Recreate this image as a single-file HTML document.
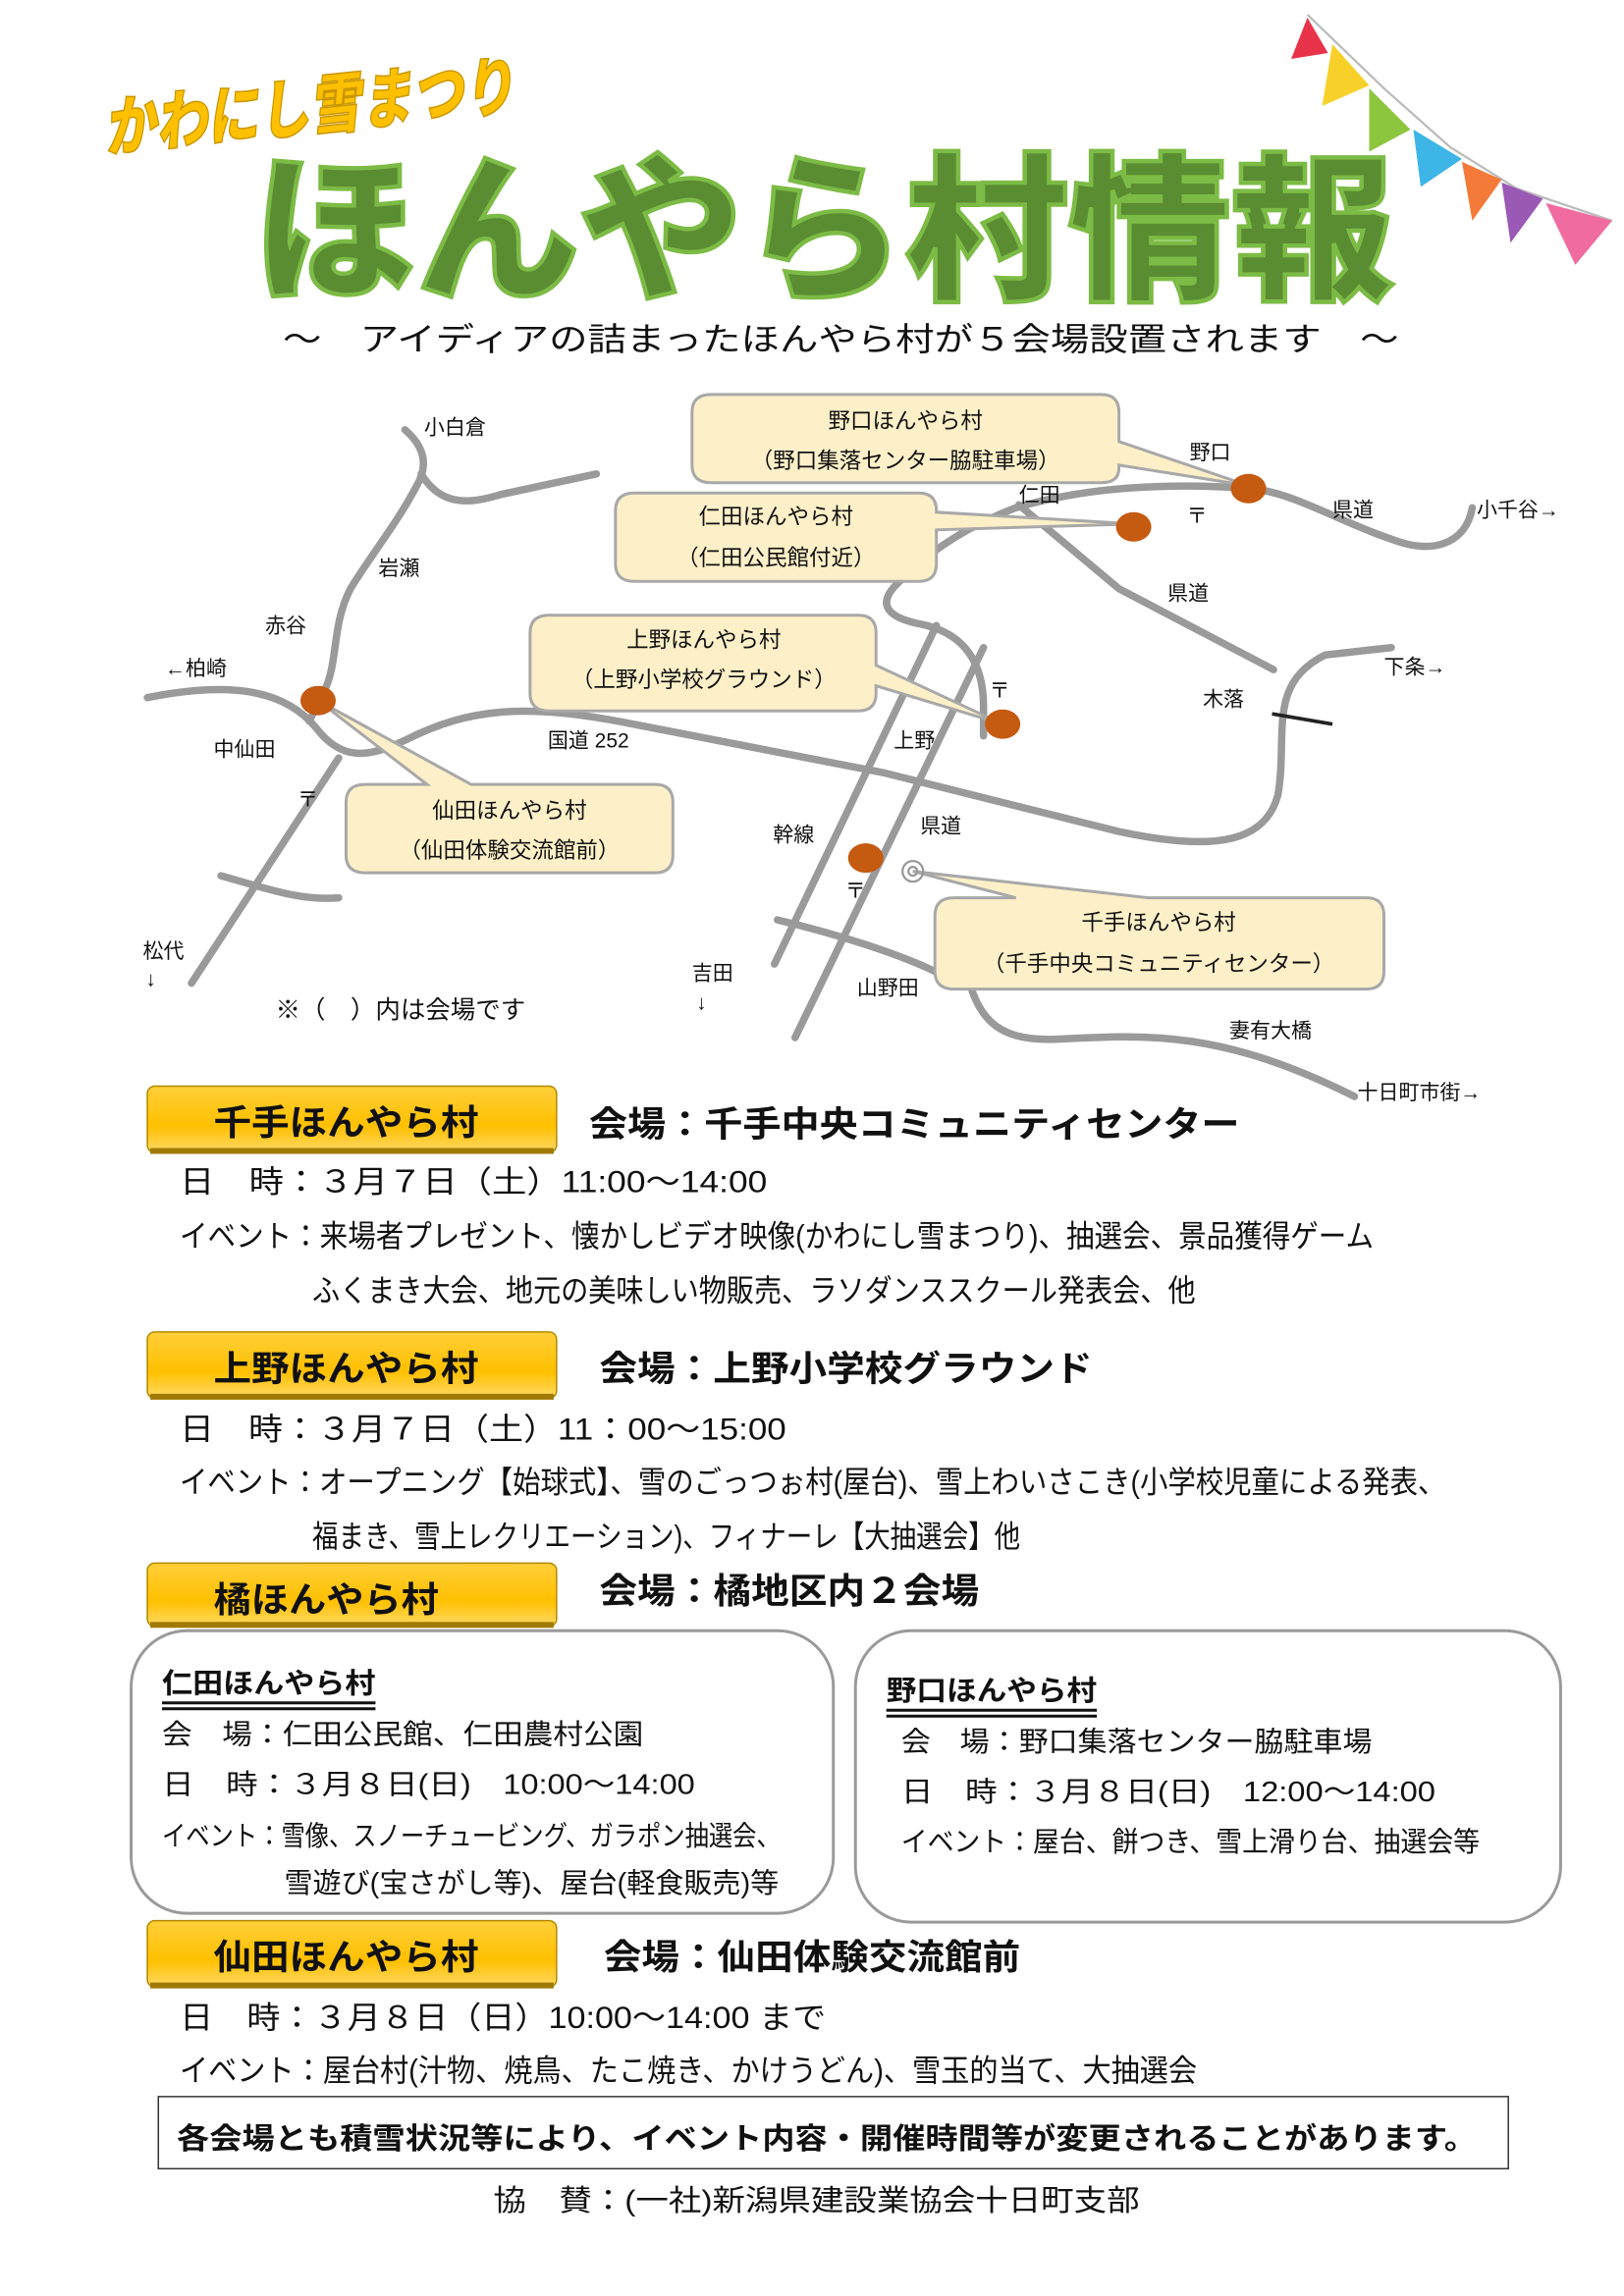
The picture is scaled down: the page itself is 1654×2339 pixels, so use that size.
<!DOCTYPE html>
<html><head><meta charset="utf-8"><style>
html,body{margin:0;padding:0;background:#fff;}
svg{display:block;}
text{font-family:"Liberation Sans","Noto Sans CJK JP",sans-serif;fill:#111;}
</style></head><body>
<svg width="1654" height="2339" viewBox="0 0 1103 1560" xmlns="http://www.w3.org/2000/svg">
<defs>
<linearGradient id="yb" x1="0" y1="0" x2="0" y2="1">
<stop offset="0" stop-color="#ffcf3a"/><stop offset="0.6" stop-color="#ffc000"/><stop offset="1" stop-color="#ffd966"/>
</linearGradient>
</defs>
<!-- bunting -->
<polyline points="888,10 940,60 985,100 1030,128 1095,150" fill="none" stroke="#bbb" stroke-width="1.5"/>
<polygon points="888,12 877,40 902,36" fill="#e8334a"/>
<polygon points="905,30 898,72 930,58" fill="#f7d12a"/>
<polygon points="930,60 930,103 958,88" fill="#8cc63f"/>
<polygon points="960,88 965,127 993,108" fill="#3db5e6"/>
<polygon points="993,110 1000,150 1020,122" fill="#f47a3a"/>
<polygon points="1020,124 1026,165 1048,135" fill="#9b59b6"/>
<polygon points="1050,138 1070,180 1095,150" fill="#f06ba0"/>
<!-- title -->
<text x="72" y="103" font-size="44" font-weight="900" font-style="italic" style="fill:#ffc000;stroke:#c89600;stroke-width:1" transform="rotate(-6 72 103)" textLength="280" lengthAdjust="spacingAndGlyphs">かわにし雪まつり</text>
<text x="172" y="195" font-size="108" font-weight="900" style="fill:#5a8c32;stroke:#7cbb45;stroke-width:3" textLength="775" lengthAdjust="spacingAndGlyphs">ほんやら村情報</text>
<text x="192" y="238" font-size="22" textLength="758" lengthAdjust="spacingAndGlyphs">～　アイディアの詰まったほんやら村が５会場設置されます　～</text>
<!-- roads -->
<g fill="none" stroke="#9a9a9a" stroke-width="5" stroke-linecap="round">
<path d="M275,292 C290,305 290,318 283,330 C270,355 250,380 238,400 C225,425 230,450 220,470 L210,490"/>
<path d="M286,322 C300,345 320,342 340,336 L405,322"/>
<path d="M100,474 C160,462 195,470 215,495 C232,517 250,515 275,503 C320,480 360,478 430,492 L600,525 L760,565 C830,580 860,570 868,540 C875,500 860,465 900,445 L945,440"/>
<path d="M230,515 L130,668"/>
<path d="M150,595 C185,605 205,612 230,610"/>
<path d="M692,343 L760,400 L865,455"/>
<path d="M1000,345 C995,372 970,375 950,368 C910,355 880,335 850,332 C800,328 740,330 690,345 C650,360 625,380 608,398 C595,412 605,420 625,424 C655,430 668,450 668,480 L668,500"/>
<path d="M636,425 L526,655"/>
<path d="M668,440 L540,705"/>
<path d="M528,625 C570,635 610,648 635,660"/>
<path d="M657,662 C665,695 680,708 720,706 C780,703 830,700 920,745"/>
</g>
<line x1="864" y1="485" x2="905" y2="492" stroke="#222" stroke-width="2.5"/>
<!-- callouts -->
<g fill="#fdf0c8" stroke="#a8a8a8" stroke-width="2">
<path d="M483,268 H748 Q760,268 760,280 V300 L848,330 L760,316 V318 Q760,328 748,328 H483 Q470,328 470,316 V280 Q470,268 483,268 Z"/>
<path d="M431,335 H624 Q636,335 636,347 V348 L770,356 L636,360 V383 Q636,395 624,395 H431 Q418,395 418,383 V347 Q418,335 431,335 Z"/>
<path d="M373,418 H583 Q595,418 595,430 V452 L681,492 L595,466 V471 Q595,483 583,483 H373 Q360,483 360,471 V430 Q360,418 373,418 Z"/>
<path d="M248,533 H290 L216,476 L320,533 H445 Q457,533 457,545 V581 Q457,593 445,593 H248 Q235,593 235,581 V545 Q235,533 248,533 Z"/>
<path d="M648,610 H690 L620,592 L780,610 H928 Q940,610 940,622 V660 Q940,672 928,672 H648 Q635,672 635,660 V622 Q635,610 648,610 Z"/>
</g>
<circle cx="620" cy="592" r="7" fill="none" stroke="#999" stroke-width="1.5"/><circle cx="620" cy="592" r="3" fill="none" stroke="#999" stroke-width="1.5"/>
<g font-size="15" text-anchor="middle">
<text x="615" y="291">野口ほんやら村</text><text x="615" y="318">（野口集落センター脇駐車場）</text>
<text x="527" y="356">仁田ほんやら村</text><text x="527" y="384">（仁田公民館付近）</text>
<text x="478" y="440">上野ほんやら村</text><text x="478" y="467">（上野小学校グラウンド）</text>
<text x="346" y="556">仙田ほんやら村</text><text x="346" y="583">（仙田体験交流館前）</text>
<text x="787" y="632">千手ほんやら村</text><text x="787" y="660">（千手中央コミュニティセンター）</text>
</g>
<g fill="#c55a11">
<ellipse cx="848" cy="332" rx="12" ry="10"/><ellipse cx="770" cy="358" rx="12" ry="10"/>
<ellipse cx="681" cy="492" rx="12" ry="10"/><ellipse cx="216" cy="476" rx="12" ry="10"/>
<ellipse cx="588" cy="583" rx="12" ry="10"/>
</g>
<g font-size="14">
<text x="288" y="295">小白倉</text><text x="257" y="391">岩瀬</text><text x="180" y="430">赤谷</text>
<text x="112" y="459">←柏崎</text><text x="145" y="514">中仙田</text><text x="372" y="508">国道 252</text>
<text x="97" y="651">松代</text><text x="99" y="670">↓</text>
<text x="470" y="666">吉田</text><text x="473" y="686">↓</text>
<text x="525" y="572">幹線</text><text x="625" y="566">県道</text><text x="607" y="508">上野</text>
<text x="582" y="676">山野田</text><text x="835" y="705">妻有大橋</text><text x="922" y="747">十日町市街→</text>
<text x="817" y="480">木落</text><text x="940" y="458">下条→</text><text x="793" y="408">県道</text>
<text x="905" y="351">県道</text><text x="1003" y="351">小千谷→</text><text x="808" y="312">野口</text>
<text x="692" y="341">仁田</text>
<text x="806" y="355">〒</text><text x="672" y="474">〒</text><text x="202" y="548">〒</text><text x="574" y="610">〒</text>
</g>
<text x="187" y="692" font-size="17">※（　）内は会場です</text>
<!-- buttons -->
<g stroke="#b08a00" stroke-width="1">
<rect x="100" y="738" width="278" height="45" rx="5" fill="url(#yb)"/>
<rect x="100" y="905" width="278" height="45" rx="5" fill="url(#yb)"/>
<rect x="100" y="1062" width="278" height="43" rx="5" fill="url(#yb)"/>
<rect x="100" y="1305" width="278" height="45" rx="5" fill="url(#yb)"/>
</g>
<g fill="#a07a00"><rect x="102" y="780" width="274" height="4"/><rect x="102" y="947" width="274" height="4"/><rect x="102" y="1102" width="274" height="4"/><rect x="102" y="1347" width="274" height="4"/></g>
<g font-size="24" font-weight="bold">
<text x="145" y="771" textLength="180" lengthAdjust="spacingAndGlyphs">千手ほんやら村</text>
<text x="145" y="938" textLength="180" lengthAdjust="spacingAndGlyphs">上野ほんやら村</text>
<text x="145" y="1095" textLength="153" lengthAdjust="spacingAndGlyphs">橘ほんやら村</text>
<text x="145" y="1338" textLength="180" lengthAdjust="spacingAndGlyphs">仙田ほんやら村</text>
<text x="400" y="772" textLength="442" lengthAdjust="spacingAndGlyphs">会場：千手中央コミュニティセンター</text>
<text x="407" y="938" textLength="335" lengthAdjust="spacingAndGlyphs">会場：上野小学校グラウンド</text>
<text x="407" y="1089" textLength="258" lengthAdjust="spacingAndGlyphs">会場：橘地区内２会場</text>
<text x="410" y="1338" textLength="283" lengthAdjust="spacingAndGlyphs">会場：仙田体験交流館前</text>
</g>
<g font-size="21">
<text x="122" y="810" textLength="399" lengthAdjust="spacingAndGlyphs">日　時：３月７日（土）11:00～14:00</text>
<text x="122" y="847" textLength="811" lengthAdjust="spacingAndGlyphs">イベント：来場者プレゼント、懐かしビデオ映像(かわにし雪まつり)、抽選会、景品獲得ゲーム</text>
<text x="212" y="884" textLength="600" lengthAdjust="spacingAndGlyphs">ふくまき大会、地元の美味しい物販売、ラソダンススクール発表会、他</text>
<text x="122" y="978" textLength="412" lengthAdjust="spacingAndGlyphs">日　時：３月７日（土）11：00～15:00</text>
<text x="122" y="1014" textLength="860" lengthAdjust="spacingAndGlyphs">イベント：オープニング【始球式】、雪のごっつぉ村(屋台)、雪上わいさこき(小学校児童による発表、</text>
<text x="212" y="1051" textLength="481" lengthAdjust="spacingAndGlyphs">福まき、雪上レクリエーション)、フィナーレ【大抽選会】他</text>
<text x="122" y="1378" textLength="439" lengthAdjust="spacingAndGlyphs">日　時：３月８日（日）10:00～14:00 まで</text>
<text x="122" y="1414" textLength="691" lengthAdjust="spacingAndGlyphs">イベント：屋台村(汁物、焼鳥、たこ焼き、かけうどん)、雪玉的当て、大抽選会</text>
</g>
<!-- boxes -->
<rect x="89" y="1108" width="477" height="192" rx="38" fill="none" stroke="#9a9a9a" stroke-width="2"/>
<rect x="581" y="1108" width="479" height="198" rx="38" fill="none" stroke="#9a9a9a" stroke-width="2"/>
<g font-size="19">
<text x="110" y="1150" font-weight="bold" textLength="145" lengthAdjust="spacingAndGlyphs">仁田ほんやら村</text>
<text x="110" y="1185" textLength="327" lengthAdjust="spacingAndGlyphs">会　場：仁田公民館、仁田農村公園</text>
<text x="110" y="1219" textLength="362" lengthAdjust="spacingAndGlyphs">日　時：３月８日(日)　10:00～14:00</text>
<text x="110" y="1254" textLength="420" lengthAdjust="spacingAndGlyphs">イベント：雪像、スノーチュービング、ガラポン抽選会、</text>
<text x="193" y="1286" textLength="336" lengthAdjust="spacingAndGlyphs">雪遊び(宝さがし等)、屋台(軽食販売)等</text>
<text x="602" y="1155" font-weight="bold" textLength="143" lengthAdjust="spacingAndGlyphs">野口ほんやら村</text>
<text x="612" y="1190" textLength="320" lengthAdjust="spacingAndGlyphs">会　場：野口集落センター脇駐車場</text>
<text x="612" y="1224" textLength="363" lengthAdjust="spacingAndGlyphs">日　時：３月８日(日)　12:00～14:00</text>
<text x="612" y="1258" textLength="393" lengthAdjust="spacingAndGlyphs">イベント：屋台、餅つき、雪上滑り台、抽選会等</text>
</g>
<g fill="#111"><rect x="110" y="1156" width="145" height="2"/><rect x="110" y="1160" width="145" height="2"/>
<rect x="602" y="1161" width="143" height="2"/><rect x="602" y="1165" width="143" height="2"/></g>
<rect x="107.5" y="1424.5" width="917" height="49" fill="none" stroke="#333" stroke-width="1"/>
<text x="120" y="1460" font-size="20" font-weight="bold" textLength="883" lengthAdjust="spacingAndGlyphs">各会場とも積雪状況等により、イベント内容・開催時間等が変更されることがあります。</text>
<text x="335" y="1502" font-size="20" textLength="439" lengthAdjust="spacingAndGlyphs">協　賛：(一社)新潟県建設業協会十日町支部</text>
</svg>
</body></html>
